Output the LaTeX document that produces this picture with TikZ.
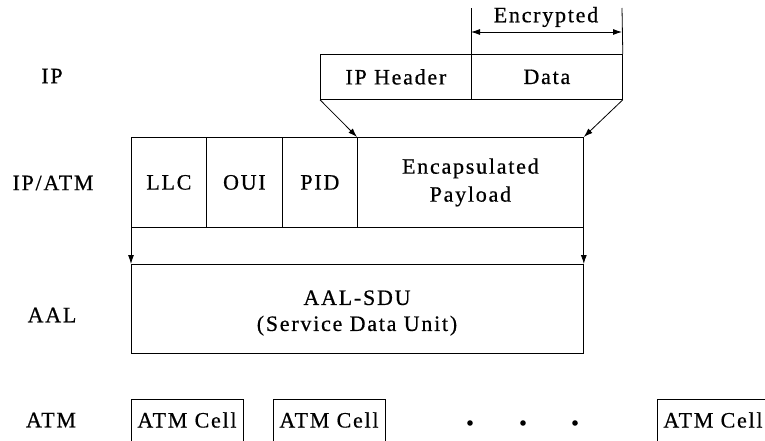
\documentclass[tikz,border=0pt]{standalone}
\usepackage{fontspec}
\setmainfont{Liberation Serif}[LetterSpace=8, FakeBold=0.6]
\usetikzlibrary{arrows.meta}
\begin{document}
\begin{tikzpicture}[x=1pt,y=-1pt,
  every node/.style={font=\fontsize{22}{25}\selectfont, inner sep=0pt},
  box/.style={draw, line width=0.8pt, anchor=north west, align=center},
  lbl/.style={anchor=center, align=center},
  conn/.style={line width=0.8pt},
  arr/.style={line width=0.8pt, -{Latex[length=9pt,width=6pt]}},
  darr/.style={line width=0.8pt, {Latex[length=9pt,width=6pt]}-{Latex[length=9pt,width=6pt]}}]
\useasboundingbox (0,0) rectangle (765,441);
% row labels
\node[lbl] (lip) at (52,76) {IP};
\node[lbl] (lipatm) at (53,183) {IP/ATM};
\node[lbl] (laal) at (52,315) {AAL};
\node[lbl] (latm) at (51,420) {ATM};
% IP packet
\node[box, minimum width=151pt, minimum height=45pt] (iph) at (320,54) {IP Header};
\node[box, minimum width=151pt, minimum height=45pt] (data) at (471,54) {Data};
% encrypted marker
\coordinate (e1) at (471,8);
\coordinate (e2) at (622,8);
\coordinate (a1) at (471,32);
\coordinate (a2) at (622,32);
\draw[conn] (data.north west) -- (e1);
\draw[conn] (data.north east) -- (e2);
\draw[darr] (a1) -- (a2);
\node[lbl] (enc) at (546,17) {Encrypted};
% IP/ATM frame
\node[box, minimum width=75pt, minimum height=90pt] (llc) at (131,137) {LLC};
\node[box, minimum width=76pt, minimum height=90pt] (oui) at (206,137) {OUI};
\node[box, minimum width=75pt, minimum height=90pt] (pid) at (282,137) {PID};
\node[box, minimum width=226pt, minimum height=90pt] (pay) at (357,137) {Encapsulated\\[3pt]Payload};
\draw[arr] (iph.south west) -- (pay.north west);
\draw[arr] (data.south east) -- (pay.north east);
% AAL
\node[box, minimum width=452pt, minimum height=89pt] (aal) at (131,264) {};
\node[lbl] (aaltxt) at (357,313) {AAL-SDU\\[1pt](Service Data Unit)};
\draw[arr] (llc.south west) -- (aal.north west);
\draw[arr] (pay.south east) -- (aal.north east);
% ATM cells
\node[box, minimum width=112pt, minimum height=60pt] (c1) at (131,399) {};
\node[box, minimum width=112pt, minimum height=60pt] (c2) at (273,399) {};
\node[box, minimum width=112pt, minimum height=60pt] (c3) at (657,399) {};
\node[lbl] (t1) at (187,420) {ATM Cell};
\node[lbl] (t2) at (329,420) {ATM Cell};
\node[lbl] (t3) at (713,420) {ATM Cell};
\fill (470,423) circle (2.8pt);
\fill (523,423) circle (2.8pt);
\fill (575,423) circle (2.8pt);
\end{tikzpicture}
\end{document}
